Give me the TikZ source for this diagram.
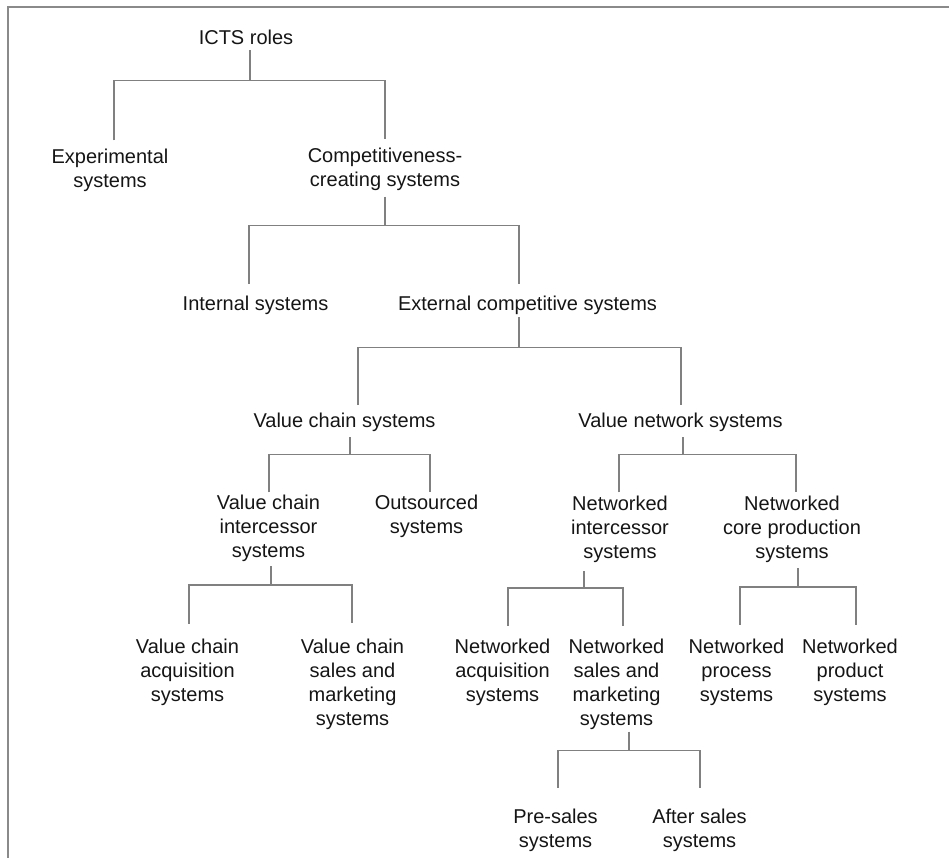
\documentclass[tikz,border=0pt]{standalone}
\usepackage{fontspec}
\setmainfont{Liberation Sans}
\definecolor{linkgray}{HTML}{808080}
\definecolor{framegray}{HTML}{8A8A8A}
\definecolor{ink}{HTML}{151515}
\tikzset{
  role/.style={align=center, inner sep=0pt, outer sep=0pt, text=ink,
    font=\fontsize{20}{24}\selectfont, yshift=-1.5pt,
    execute at begin node=\strut, execute at end node=\strut},
  link/.style={draw=linkgray, line width=1.3pt},
  frame/.style={draw=framegray, line width=2pt}
}
\begin{document}
\begin{tikzpicture}[x=1pt, y=-1pt]
\useasboundingbox (0,0) rectangle (949,858);
% open frame along the top and left edge
\draw[frame] (949,7) -- (8,7) -- (8,858);

% role categories
\node[role] (icts)  at (246,38.2)    {ICTS roles};
\node[role] (exp)   at (110,170.2)   {Experimental\\systems};
\node[role] (comp)  at (385,169.7)   {Competitiveness-\\creating systems};
\node[role] (int)   at (255.5,304.2) {Internal systems};
\node[role] (ext)   at (527.5,304.2) {External competitive systems};
\node[role] (vcs)   at (344.5,421.2) {Value chain systems};
\node[role] (vns)   at (680.5,421.2) {Value network systems};
\node[role] (vci)   at (268.5,528.2) {Value chain\\intercessor\\systems};
\node[role] (out)   at (426.5,516.2) {Outsourced\\systems};
\node[role] (nis)   at (620,529.2)   {Networked\\intercessor\\systems};
\node[role] (ncp)   at (792,529.2)   {Networked\\core production\\systems};
\node[role] (vca)   at (187.5,672.7) {Value chain\\acquisition\\systems};
\node[role] (vcsm)  at (352.5,684.2) {Value chain\\sales and\\marketing\\systems};
\node[role] (nacq)  at (502.5,672.7) {Networked\\acquisition\\systems};
\node[role] (nsm)   at (616.5,684.7) {Networked\\sales and\\marketing\\systems};
\node[role] (nproc) at (736.5,672.7) {Networked\\process\\systems};
\node[role] (nprod) at (850,672.7)   {Networked\\product\\systems};
\node[role] (pre)   at (555.5,830.7) {Pre-sales\\systems};
\node[role] (after) at (699.5,830.7) {After sales\\systems};

% ICTS roles
\draw[link] ([xshift=4pt,yshift=1.5pt]icts.south) -- ++(0,30) coordinate (icts-j);
\draw[link] ([xshift=4pt,yshift=8.5pt]exp.north) |- (icts-j) -| ([yshift=9.5pt]comp.north);

% competitiveness-creating systems
\draw[link] ([yshift=-2.5pt]comp.south) -- ++(0,29) coordinate (comp-j);
\draw[link] ([xshift=-6.5pt,yshift=9.5pt]int.north) |- (comp-j) -| ([xshift=-8.5pt,yshift=9.5pt]ext.north);

% external competitive systems
\draw[link] ([xshift=-8.5pt,yshift=0.5pt]ext.south) -- ++(0,30) coordinate (ext-j);
\draw[link] ([xshift=13.5pt,yshift=5.5pt]vcs.north) |- (ext-j) -| ([xshift=0.5pt,yshift=5.5pt]vns.north);

% value chain systems
\draw[link] ([xshift=5.5pt,yshift=-2.5pt]vcs.south) -- ++(0,17) coordinate (vcs-j);
\draw[link] ([xshift=0.5pt,yshift=2.5pt]vci.north) |- (vcs-j) -| ([xshift=3.5pt,yshift=2.5pt]out.north);

% value network systems
\draw[link] ([xshift=2.5pt,yshift=-2.5pt]vns.south) -- ++(0,17) coordinate (vns-j);
\draw[link] ([xshift=-1pt,yshift=3.5pt]nis.north) |- (vns-j) -| ([xshift=4pt,yshift=3.5pt]ncp.north);

% value chain intercessor systems
\draw[link] ([xshift=2.5pt,yshift=-1.5pt]vci.south) -- ++(0,19) coordinate (vci-j);
\draw[link] ([xshift=1.5pt,yshift=15.5pt]vca.north) |- (vci-j) -| ([xshift=-0.5pt,yshift=15.5pt]vcsm.north);

% networked intercessor systems
\draw[link] ([xshift=-36pt,yshift=-5.5pt]nis.south) -- ++(0,17) coordinate (nis-j);
\draw[link] ([xshift=5.5pt,yshift=13.5pt]nacq.north) |- (nis-j) -| ([xshift=6.5pt,yshift=13.5pt]nsm.north);

% networked core production systems
\draw[link] ([xshift=6pt,yshift=-2.5pt]ncp.south) -- ++(0,19) coordinate (ncp-j);
\draw[link] ([xshift=3.5pt,yshift=14.5pt]nproc.north) |- (ncp-j) -| ([xshift=6pt,yshift=14.5pt]nprod.north);

% networked sales and marketing systems
\draw[link] ([xshift=12.5pt,yshift=1.5pt]nsm.south) -- ++(0,19) coordinate (nsm-j);
\draw[link] ([xshift=2.5pt,yshift=21.5pt]pre.north) |- (nsm-j) -| ([xshift=0.5pt,yshift=21.5pt]after.north);
\end{tikzpicture}
\end{document}
